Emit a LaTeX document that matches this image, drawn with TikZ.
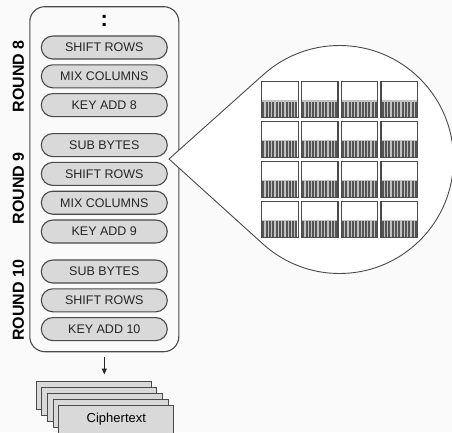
\documentclass[tikz,border=0pt]{standalone}
\usepackage{fontspec}
\setmainfont{Liberation Sans}
\usetikzlibrary{arrows.meta,positioning,calc}
\definecolor{bgcol}{HTML}{FAFAFA}
\definecolor{edgecol}{HTML}{4A4A4A}
\definecolor{pillcol}{HTML}{D9D9D9}
\definecolor{barcol}{HTML}{555555}
\definecolor{gapcol}{HTML}{C2C2C2}

\begin{document}
\begin{tikzpicture}[x=1pt,y=1pt,
        stage/.style={draw=edgecol,line width=1.1pt,fill=pillcol,rounded corners=11.5pt,
          minimum width=126pt,minimum height=23pt,inner sep=0pt,text=black!85,font=\fontsize{12.5}{14}\selectfont},
        roundlbl/.style={rotate=90,inner sep=0pt,font=\fontsize{16}{18}\selectfont\bfseries},
        sheet/.style={draw=edgecol,line width=1.1pt,fill=pillcol,anchor=north west,
          minimum width=115pt,minimum height=28pt,inner sep=0pt,font=\fontsize{13}{15}\selectfont},
        cell/.style={draw=edgecol,line width=1.3pt,minimum width=36.5pt,minimum height=36pt,inner sep=0pt},
        arr/.style={-{Triangle[length=6pt,width=5pt]},black!85,line width=1.3pt}]
        \fill[bgcol] (0,0) rectangle (452,-432);
        \useasboundingbox (0,0) rectangle (452,-432);
        \node[draw=edgecol,line width=1.1pt,rounded corners=15pt,minimum width=149pt,
          minimum height=345pt,inner sep=0pt](frame) at (104.3,-179.2) {};
        \node[inner sep=0pt,font=\fontsize{22}{22}\selectfont\bfseries](dots) at (104.3,-20.9) {:};
        \node[stage](sr8) at (104.3,-47.5) {SHIFT ROWS};
        \node[stage,below=4.7pt of sr8](mc8) {MIX COLUMNS};
        \node[stage,below=4.7pt of mc8](ka8) {KEY ADD 8};
        \node[stage,below=15.9pt of ka8](sb9) {SUB BYTES};
        \node[stage,below=4.7pt of sb9](sr9) {SHIFT ROWS};
        \node[stage,below=4.7pt of sr9](mc9) {MIX COLUMNS};
        \node[stage,below=4.7pt of mc9](ka9) {KEY ADD 9};
        \node[stage,below=15.9pt of ka9](sb10) {SUB BYTES};
        \node[stage,below=4.7pt of sb10](sr10) {SHIFT ROWS};
        \node[stage,below=4.7pt of sr10](ka10) {KEY ADD 10};
        \coordinate (labx) at (18.3,0);
        \coordinate (m8) at ($(sr8)!0.5!(ka8)$);
        \coordinate (m9) at ($(sb9)!0.5!(ka9)$);
        \coordinate (m10) at ($(sb10)!0.5!(ka10)$);
        \node[roundlbl](r8) at (m8 -| labx) {ROUND 8};
        \node[roundlbl](r9) at (m9 -| labx) {ROUND 9};
        \node[roundlbl](r10) at (m10 -| labx) {ROUND 10};
        \foreach \i in {0,...,3}
          \node[sheet](sheet\i) at ({35.7+5.65*\i},{-380.7-6*\i}) {};
        \node[sheet](cipher) at (58.3,-404.7) {Ciphertext};
        \draw[arr,shorten <=5pt,shorten >=6.2pt](frame.south)--(frame.south |- sheet0.north);
        \coordinate (tip) at (169,-159);
        \coordinate (hub) at (339.5,-159.5);
        \filldraw[fill=white,draw=edgecol,line width=0.9pt](tip)--($(hub)+(131.96:114)$)
          arc[start angle=131.96,end angle=-131.96,radius=114]--cycle;
        \foreach \r in {0,...,3}{
          \foreach \c in {0,...,3}{
            \pgfmathsetmacro{\cx}{279.95+39.8*\c}
            \pgfmathsetmacro{\cy}{-99.7-39.9*\r}
            \fill[gapcol]({\cx-17.5},{\cy-0.3}) rectangle ({\cx+17.5},{\cy-17.5});
            \foreach \k in {0,...,10}
              \fill[barcol]({\cx-17.5+3.3*\k},{\cy-1.8}) rectangle ++(2,-15.7);
            \node[cell](cell\r\c) at (\cx,\cy) {};
          }
        }
      \end{tikzpicture}
\end{document}
